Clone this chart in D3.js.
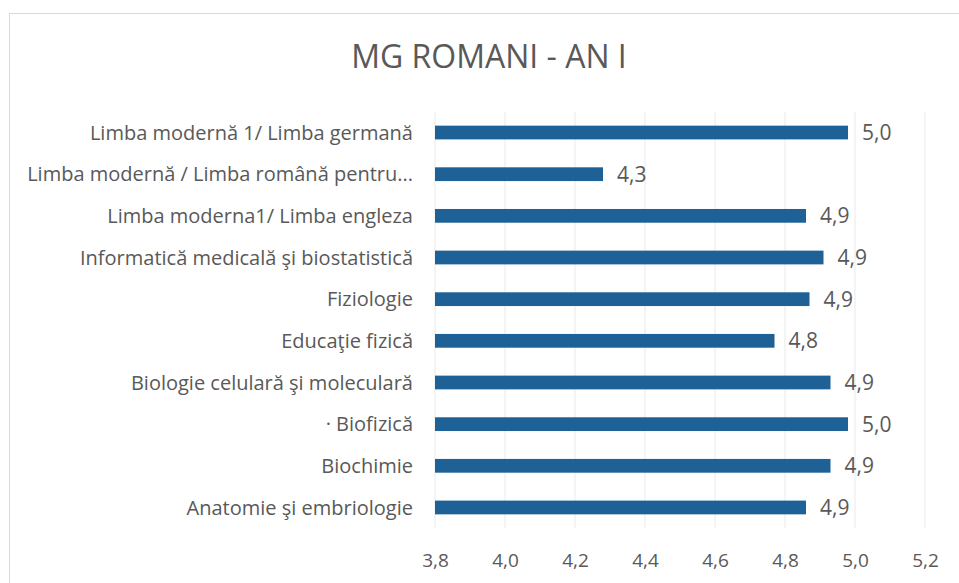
<!DOCTYPE html>
<html>
<head>
<meta charset="utf-8">
<script src="https://cdn.jsdelivr.net/npm/d3@7"></script>
<style>
  body { margin: 0; background: #fff; }
  svg text { font-family: "Open Sans", sans-serif; fill: #595959; }
</style>
</head>
<body>
<div id="chart"></div>
<script>
var title = "MG ROMANI - AN I";
var categories = [
  "Limba modernă 1/ Limba germană",
  "Limba modernă / Limba română pentru...",
  "Limba moderna1/ Limba engleza",
  "Informatică medicală şi biostatistică",
  "Fiziologie",
  "Educaţie fizică ",
  "Biologie celulară şi moleculară",
  "· Biofizică",
  "Biochimie",
  "Anatomie şi embriologie"
];
var values = [4.98, 4.28, 4.86, 4.91, 4.87, 4.77, 4.93, 4.98, 4.93, 4.86];
var ticks = [3.8, 4.0, 4.2, 4.4, 4.6, 4.8, 5.0, 5.2];

var w = 959, h = 583;
var svg = d3.select("#chart").append("svg")
  .attr("width", w)
  .attr("height", h);

// chart frame
svg.append("rect")
  .attr("x", 9.5).attr("y", 13.5)
  .attr("width", w).attr("height", h)
  .attr("fill", "#fff")
  .attr("stroke", "#d9d9d9");

var x = d3.scaleLinear().domain([3.8, 5.2]).range([435, 925]);
var y = d3.scaleBand().domain(categories).range([111.7, 528.3]).paddingInner(0.67).paddingOuter(0.335);

var fmt = function(v) { return v.toFixed(1).replace(".", ","); };

// gridlines
svg.append("g").selectAll("line")
  .data(ticks)
  .enter().append("line")
  .attr("x1", function(d) { return x(d); })
  .attr("x2", function(d) { return x(d); })
  .attr("y1", 111.7)
  .attr("y2", 528.3)
  .attr("stroke", "#e9e9e9")
  .attr("stroke-width", 1);

// x axis labels
var xAxis = d3.axisBottom(x).tickValues(ticks).tickFormat(fmt).tickSize(0).tickPadding(0);
var gx = svg.append("g").attr("transform", "translate(0,553)").call(xAxis);
gx.select(".domain").remove();
gx.selectAll("text").attr("font-size", 19).attr("dy", "0.71em").style("font-family", null);

// category labels
var yAxis = d3.axisLeft(y).tickSize(0).tickPadding(22);
var gy = svg.append("g").attr("transform", "translate(" + x(3.8) + ",0)").call(yAxis);
gy.select(".domain").remove();
gy.selectAll("text").attr("font-size", 20).attr("dy", "0.36em").style("font-family", null);

// bars
svg.append("g").selectAll("rect")
  .data(values)
  .enter().append("rect")
  .attr("x", x(3.8))
  .attr("y", function(d, i) { return y(categories[i]); })
  .attr("width", function(d) { return x(d) - x(3.8); })
  .attr("height", y.bandwidth())
  .attr("fill", "#1d6196");

// value labels
svg.append("g").selectAll("text")
  .data(values)
  .enter().append("text")
  .attr("x", function(d) { return x(d) + 14; })
  .attr("y", function(d, i) { return y(categories[i]) + y.bandwidth() / 2; })
  .attr("dy", "0.36em")
  .attr("font-size", 21)
  .text(fmt);

svg.append("text")
  .attr("x", 489)
  .attr("y", 68)
  .attr("text-anchor", "middle")
  .attr("font-size", 32)
  .text(title);
</script>
</body>
</html>
